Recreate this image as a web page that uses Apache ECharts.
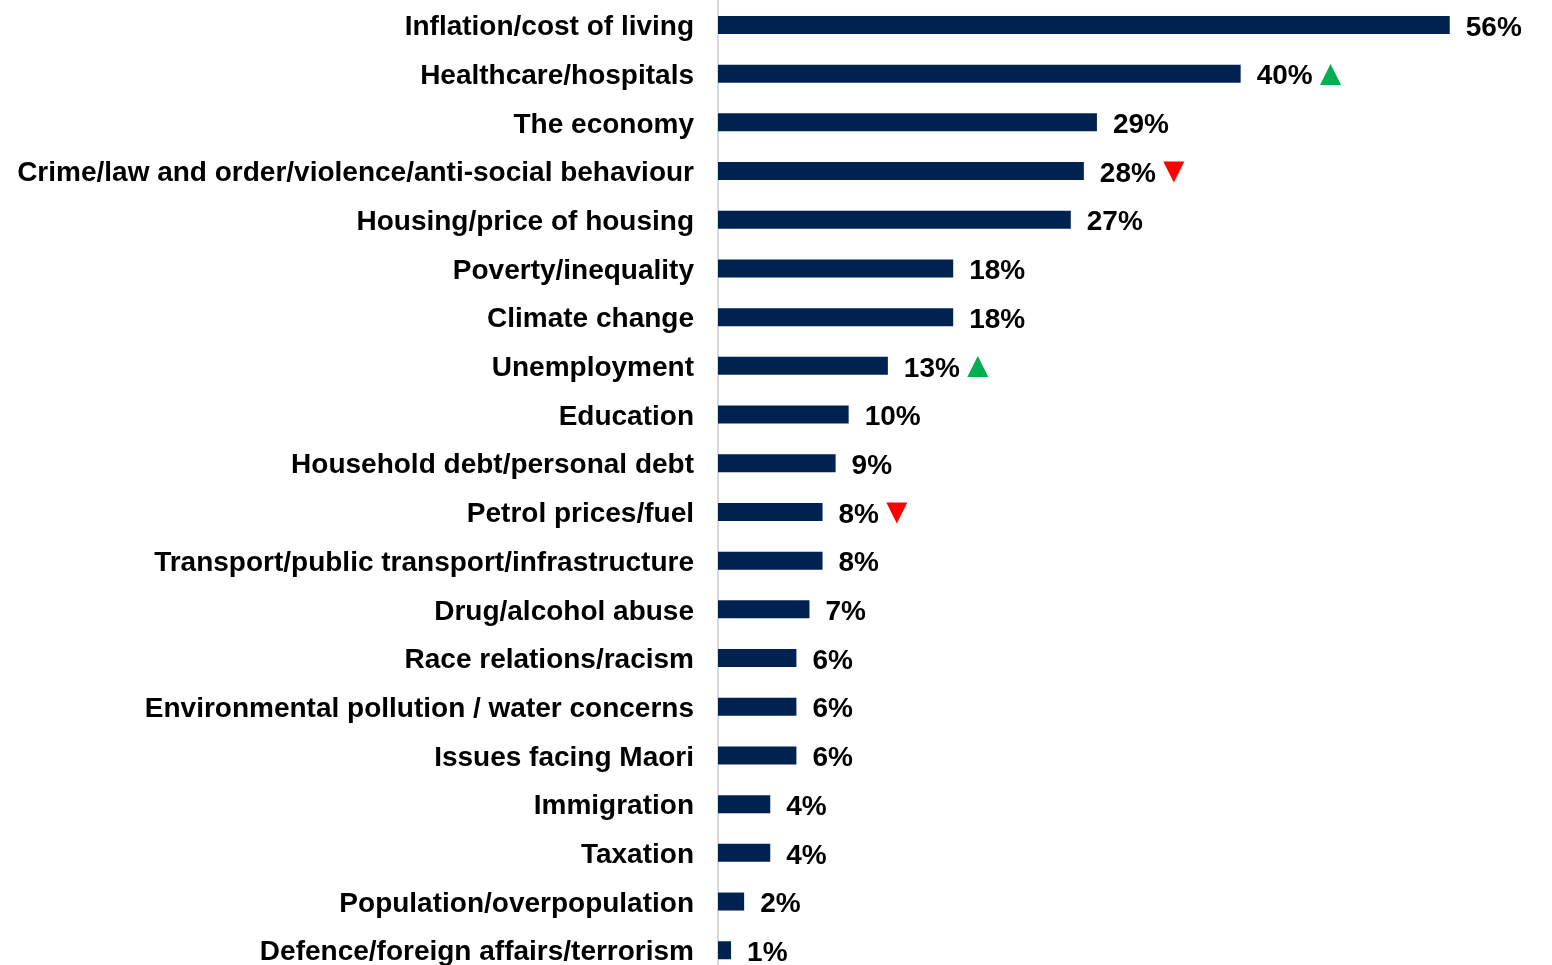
<!DOCTYPE html>
<html>
<head>
<meta charset="utf-8">
<script src="https://cdn.jsdelivr.net/npm/echarts@6/dist/echarts.min.js"></script>
<style>
html,body{margin:0;padding:0;background:#fff;}
#chart{width:1552px;height:965px;}
</style>
</head>
<body>
<div id="chart"></div>
<script>
var categories = [
  "Inflation/cost of living",
  "Healthcare/hospitals",
  "The economy",
  "Crime/law and order/violence/anti-social behaviour",
  "Housing/price of housing",
  "Poverty/inequality",
  "Climate change",
  "Unemployment",
  "Education",
  "Household debt/personal debt",
  "Petrol prices/fuel",
  "Transport/public transport/infrastructure",
  "Drug/alcohol abuse",
  "Race relations/racism",
  "Environmental pollution / water concerns",
  "Issues facing Maori",
  "Immigration",
  "Taxation",
  "Population/overpopulation",
  "Defence/foreign affairs/terrorism"
];
var values = [56, 40, 29, 28, 27, 18, 18, 13, 10, 9, 8, 8, 7, 6, 6, 6, 4, 4, 2, 1];
var changes = ["", "up", "", "down", "", "", "", "up", "", "", "down", "", "", "", "", "", "", "", "", ""];

var FONT = '"Liberation Sans", Arial, sans-serif';
var chart = echarts.init(document.getElementById('chart'));
chart.setOption({
  animation: false,
  backgroundColor: '#ffffff',
  grid: { left: 718, right: 50, top: 0.6, bottom: -9.6, containLabel: false, outerBoundsMode: 'none' },
  xAxis: {
    type: 'value', min: 0, max: 60,
    show: false
  },
  yAxis: {
    type: 'category', inverse: true, data: categories,
    axisLine: { show: true, lineStyle: { color: '#d9d9d9', width: 2 } },
    axisTick: { show: false },
    splitLine: { show: false },
    axisLabel: {
      margin: 24, color: '#000', fontWeight: 'bold', fontSize: 28, fontFamily: FONT,
      formatter: function (v) { return '{a|' + v + '}'; },
      rich: {
        a: { color: '#000', fontWeight: 'bold', fontSize: 28, fontFamily: FONT, padding: [5, 0, 0, 0] }
      }
    }
  },
  series: [{
    type: 'bar',
    data: values,
    barWidth: 18,
    itemStyle: { color: '#002250' },
    label: {
      show: true, position: 'right', distance: 16,
      formatter: function (p) {
        var c = changes[p.dataIndex];
        var s = '{v|' + p.value + '%}';
        if (c === 'up') s += '{up|▲}';
        else if (c === 'down') s += '{dn|▼}';
        return s;
      },
      rich: {
        v: { color: '#000', fontWeight: 'bold', fontSize: 28, fontFamily: FONT, padding: [6, 0, 0, 0] },
        up: { color: '#00b050', fontSize: 36, fontFamily: FONT, padding: [2, 0, 0, 0] },
        dn: { color: '#ff0000', fontSize: 36, fontFamily: FONT, padding: [2, 0, 0, 0] }
      }
    }
  }]
});
</script>
</body>
</html>
